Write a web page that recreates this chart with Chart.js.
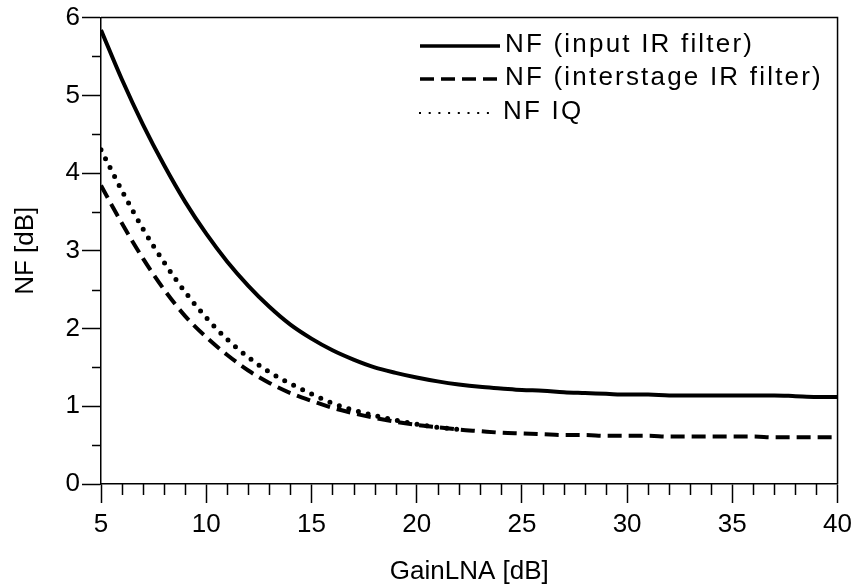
<!DOCTYPE html>
<html>
<head>
<meta charset="utf-8">
<script src="https://cdn.jsdelivr.net/npm/chart.js@4.4.1/dist/chart.umd.min.js"></script>
<style>
    body { margin: 0; background: #fff; }
    #wrap { width: 858px; height: 587px; }
</style>
</head>
<body>
<div id="wrap"><canvas id="nf-chart"></canvas></div>
<script>
// gain of the LNA in dB
var gain = [5, 6, 7, 8, 9, 10, 11, 12, 13, 14, 15, 16, 17, 18, 19, 20, 21, 22, 23, 24,
    25, 26, 27, 28, 29, 30, 31, 32, 33, 34, 35, 36, 37, 38, 39, 40];

var nfInput = [5.84, 5.20, 4.62, 4.10, 3.63, 3.22, 2.86, 2.55, 2.28, 2.05, 1.87, 1.72, 1.60, 1.50,
    1.43, 1.37, 1.32, 1.28, 1.25, 1.23, 1.21, 1.20, 1.18, 1.17, 1.16, 1.15, 1.15, 1.14, 1.14, 1.14,
    1.14, 1.14, 1.14, 1.13, 1.12, 1.12];

var nfInter = [3.84, 3.35, 2.90, 2.50, 2.16, 1.89, 1.66, 1.46, 1.30, 1.17, 1.07, 0.98, 0.91, 0.85,
    0.80, 0.76, 0.73, 0.70, 0.68, 0.66, 0.65, 0.64, 0.63, 0.63, 0.62, 0.62, 0.62, 0.61, 0.61, 0.61,
    0.61, 0.61, 0.60, 0.60, 0.60, 0.60];

// the dotted curve disappears under the dashed one past ~22 dB
var nfIQ = [4.30, 3.77, 3.28, 2.85, 2.47, 2.14, 1.86, 1.63, 1.44, 1.29, 1.16, 1.04, 0.95, 0.88,
    0.82, 0.77, 0.73, 0.70];

var seriesNames = ['NF (input IR filter)', 'NF (interstage IR filter)', 'NF IQ'];

var xTicks = [5, 10, 15, 20, 25, 30, 35, 40];
var yTicks = [0, 1, 2, 3, 4, 5, 6];

function pairs(values) {
    return values.map(function(v, i) { return { x: gain[i], y: v }; });
}

const FONT = 'Liberation Sans, Arial, sans-serif';

// box lines on top/right, minor ticks and the legend
const extras = {
    id: 'extras',
    afterDraw(chart) {
        const ctx = chart.ctx;
        const a = chart.chartArea;
        const xs = chart.scales.x;
        const ys = chart.scales.y;
        ctx.save();
        ctx.strokeStyle = '#000';
        ctx.lineWidth = 1.5;
        ctx.beginPath();
        ctx.moveTo(a.left, a.top);
        ctx.lineTo(a.right, a.top);
        ctx.lineTo(a.right, a.bottom);
        ctx.stroke();

        ctx.beginPath();
        for (let v = 0.5; v < 6; v += 1) {
            const py = Math.round(ys.getPixelForValue(v)) + 0.5;
            ctx.moveTo(a.left - 9, py);
            ctx.lineTo(a.left, py);
        }
        for (let g = 6; g < 40; g++) {
            if (g % 5 == 0) continue;
            const px = Math.round(xs.getPixelForValue(g)) + 0.5;
            ctx.moveTo(px, a.bottom);
            ctx.lineTo(px, a.bottom + 11);
        }
        ctx.stroke();

        // legend
        const rows = [46, 79, 113];
        const samples = [
            { w: 3.5, dash: [], x0: 420, x1: 500, tx: 505 },
            { w: 3.4, dash: [14, 7], x0: 420, x1: 500, tx: 505 },
            { w: 2.2, dash: [2, 7.7], x0: 419, x1: 490, tx: 503 }
        ];
        ctx.fillStyle = '#000';
        ctx.font = '26px ' + FONT;
        ctx.textBaseline = 'middle';
        ctx.letterSpacing = '2.2px';
        for (let i in samples) {
            const s = samples[i];
            ctx.lineWidth = s.w;
            ctx.setLineDash(s.dash);
            ctx.beginPath();
            ctx.moveTo(s.x0, rows[i]);
            ctx.lineTo(s.x1, rows[i]);
            ctx.stroke();
            ctx.fillText(seriesNames[i], s.tx, rows[i] - 1);
        }
        ctx.restore();
    }
};

new Chart(document.getElementById('nf-chart'), {
    type: 'line',
    data: {
        datasets: [{
            label: seriesNames[0],
            data: pairs(nfInput),
            borderColor: '#000',
            borderWidth: 4,
            pointRadius: 0,
            cubicInterpolationMode: 'monotone'
        },
        {
            label: seriesNames[2],
            data: pairs(nfIQ),
            borderColor: '#000',
            borderWidth: 5,
            borderDash: [0, 10],
            borderCapStyle: 'round',
            pointRadius: 0,
            cubicInterpolationMode: 'monotone'
        },
        {
            label: seriesNames[1],
            data: pairs(nfInter),
            borderColor: '#000',
            borderWidth: 4,
            borderDash: [14, 7],
            pointRadius: 0,
            cubicInterpolationMode: 'monotone'
        }]
    },
    options: {
        responsive: true,
        maintainAspectRatio: false,
        animation: false,
        devicePixelRatio: 1,
        layout: { padding: { top: 17, right: 19, left: 0, bottom: 0 } },
        plugins: {
            legend: { display: false },
            tooltip: { enabled: false }
        },
        scales: {
            x: {
                type: 'linear',
                min: 5,
                max: 40,
                afterFit: function(scale) { scale.height = 103; },
                afterBuildTicks: function(scale) {
                    scale.ticks = xTicks.map(function(v) { return { value: v }; });
                },
                ticks: {
                    color: '#000',
                    padding: 6,
                    font: { family: FONT, size: 26 }
                },
                grid: {
                    drawOnChartArea: false,
                    tickLength: 19,
                    tickColor: '#000',
                    tickWidth: 1.5
                },
                border: { color: '#000', width: 1.5 },
                title: {
                    display: true,
                    text: 'GainLNA [dB]',
                    color: '#000',
                    padding: { top: 0, bottom: 0 },
                    font: { family: FONT, size: 26 }
                }
            },
            y: {
                min: 0,
                max: 6,
                afterFit: function(scale) { scale.width = 101; },
                afterBuildTicks: function(scale) {
                    scale.ticks = yTicks.map(function(v) { return { value: v }; });
                },
                ticks: {
                    color: '#000',
                    padding: 2,
                    font: { family: FONT, size: 26 }
                },
                grid: {
                    drawOnChartArea: false,
                    tickLength: 19,
                    tickColor: '#000',
                    tickWidth: 1.5
                },
                border: { color: '#000', width: 1.5 },
                title: {
                    display: true,
                    text: 'NF [dB]',
                    color: '#000',
                    padding: { top: 10, bottom: 0 },
                    font: { family: FONT, size: 26 }
                }
            }
        }
    },
    plugins: [extras]
});
</script>
</body>
</html>
